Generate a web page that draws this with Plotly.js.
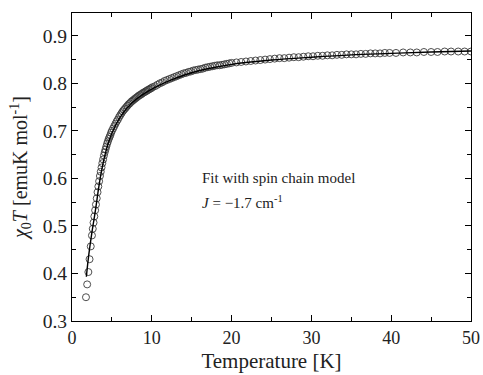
<!DOCTYPE html>
<html>
<head>
<meta charset="utf-8">
<script src="https://cdn.plot.ly/plotly-3.0.1.min.js"></script>
<style>html,body{margin:0;padding:0;background:#fff;}#chart{width:483px;height:375px;}</style>
</head>
<body>
<div id="chart"></div>
<script>
// Measured data: temperature (K) and chi0*T (emu K mol^-1)
const tempData = [1.75,1.90,2.05,2.20,2.35,2.50,2.60,2.70,2.80,2.90,3.00,3.10,3.20,3.30,3.40,3.50,3.60,3.70,3.80,3.90,
  4.00,4.10,4.20,4.30,4.40,4.50,4.60,4.70,4.80,4.90,5.00,5.15,5.30,5.45,5.60,5.75,5.90,6.05,6.20,6.35,
  6.50,6.65,6.80,6.95,7.10,7.25,7.40,7.55,7.70,7.85,8.00,8.15,8.30,8.45,8.60,8.75,8.90,9.05,9.20,9.35,
  9.50,9.65,9.80,9.95,10.1,10.4,10.7,11.0,11.3,11.6,11.9,12.2,12.5,12.8,13.1,13.4,13.7,14.0,14.3,14.6,
  14.9,15.2,15.5,15.8,16.1,16.4,16.7,17.0,17.3,17.6,17.9,18.2,18.5,18.8,19.1,19.4,19.7,20.0,20.6,21.2,
  21.8,22.4,23.0,23.6,24.2,24.8,25.4,26.0,26.6,27.2,27.8,28.4,29.0,29.6,30.2,30.8,31.4,32.0,32.6,33.2,
  33.8,34.4,35.0,35.6,36.2,36.8,37.4,38.0,38.6,39.2,39.8,40.6,41.5,42.4,43.2,44.1,45.0,45.8,46.7,47.5,
  48.4,49.2,50.0];
const chiTData = [0.350,0.377,0.403,0.430,0.457,0.480,0.494,0.507,0.520,0.533,0.545,0.558,0.571,0.583,0.594,0.605,0.614,0.623,0.632,0.640,
  0.648,0.655,0.661,0.667,0.673,0.678,0.683,0.687,0.691,0.696,0.700,0.705,0.710,0.715,0.720,0.724,0.729,0.733,0.737,0.741,
  0.744,0.747,0.750,0.753,0.756,0.758,0.761,0.763,0.765,0.767,0.769,0.771,0.773,0.775,0.776,0.778,0.780,0.781,0.783,0.784,
  0.786,0.787,0.789,0.790,0.792,0.794,0.797,0.800,0.802,0.805,0.807,0.809,0.811,0.813,0.815,0.817,0.819,0.821,0.822,0.824,
  0.825,0.827,0.828,0.829,0.830,0.831,0.833,0.834,0.835,0.836,0.837,0.838,0.838,0.839,0.840,0.841,0.842,0.843,0.844,0.845,
  0.846,0.847,0.848,0.849,0.850,0.851,0.852,0.853,0.853,0.854,0.855,0.855,0.856,0.857,0.857,0.858,0.858,0.859,0.859,0.860,
  0.860,0.861,0.861,0.861,0.862,0.862,0.863,0.863,0.863,0.864,0.864,0.864,0.865,0.865,0.865,0.866,0.866,0.866,0.867,0.867,
  0.867,0.867,0.867];

// Spin chain model fit curve
const tempFit = [1.8,2.0,2.25,2.5,2.75,3.0,3.25,3.5,3.75,4.0,4.5,5.0,5.5,6.0,7.0,8.0,9.0,10,12,14,16,18,20,25,30,35,40,45,50];
const chiTFit = [0.393,0.425,0.458,0.487,0.513,0.540,0.570,0.597,0.620,0.640,0.672,0.695,0.713,0.728,0.750,0.766,0.778,0.788,0.804,0.817,0.827,0.834,0.840,0.849,0.855,0.860,0.863,0.866,0.868];

const xTitle = 'Temperature [K]';
const yTitle = '<i>χ</i><sub>0</sub><i>T</i> [emuK mol<sup>-1</sup>]';
const noteLine1 = 'Fit with spin chain model';
const noteLine2 = '<i>J</i> = −1.7 cm<sup>-1</sup>';

const serif = "'Liberation Serif', 'Times New Roman', Times, serif";

const traces = [
  {x: tempData, y: chiTData, type: 'scatter', mode: 'markers',
   marker: {symbol: 'circle-open', size: 7, color: '#3a3a3a', line: {width: 0.9, color: '#3a3a3a'}},
   showlegend: false},
  {x: tempFit, y: chiTFit, type: 'scatter', mode: 'lines',
   line: {color: '#000', width: 1.4, shape: 'spline'}, showlegend: false}
];

function axisBase(fs) {
  return {
    showgrid: false, zeroline: false, showline: true, linecolor: '#000', linewidth: 1,
    mirror: 'ticks', ticks: 'inside', ticklen: 6, tickwidth: 1, tickcolor: '#000',
    tickfont: {family: serif, size: fs, color: '#222'}
  };
}

const layout = {
  width: 483, height: 375,
  font: {family: serif, size: 18, color: '#222'},
  margin: {l: 72, r: 12, t: 13, b: 54},
  paper_bgcolor: '#fff', plot_bgcolor: '#fff',
  xaxis: Object.assign(axisBase(18), {
    range: [0, 50], dtick: 10, tick0: 0,
    minor: {dtick: 5, ticks: 'inside', ticklen: 4, tickcolor: '#000', tickwidth: 1},
    title: {text: xTitle, font: {family: serif, size: 21, color: '#222'}, standoff: 6}
  }),
  yaxis: Object.assign(axisBase(19.5), {
    range: [0.3, 0.948], dtick: 0.1, tick0: 0.3, tickformat: '.1f',
    minor: {dtick: 0.05, ticks: 'inside', ticklen: 4, tickcolor: '#000', tickwidth: 1},
    title: {text: yTitle, font: {family: serif, size: 20, color: '#222'}, standoff: 9}
  }),
  annotations: [
    {xref: 'x', yref: 'y', x: 16.0, y: 0.601, text: noteLine1, showarrow: false,
     xanchor: 'left', yanchor: 'middle', font: {family: serif, size: 15, color: '#222'}},
    {xref: 'x', yref: 'y', x: 16.0, y: 0.551, text: noteLine2, showarrow: false,
     xanchor: 'left', yanchor: 'middle', font: {family: serif, size: 15, color: '#222'}}
  ]
};

Plotly.newPlot('chart', traces, layout, {displayModeBar: false, staticPlot: true});
</script>
</body>
</html>
